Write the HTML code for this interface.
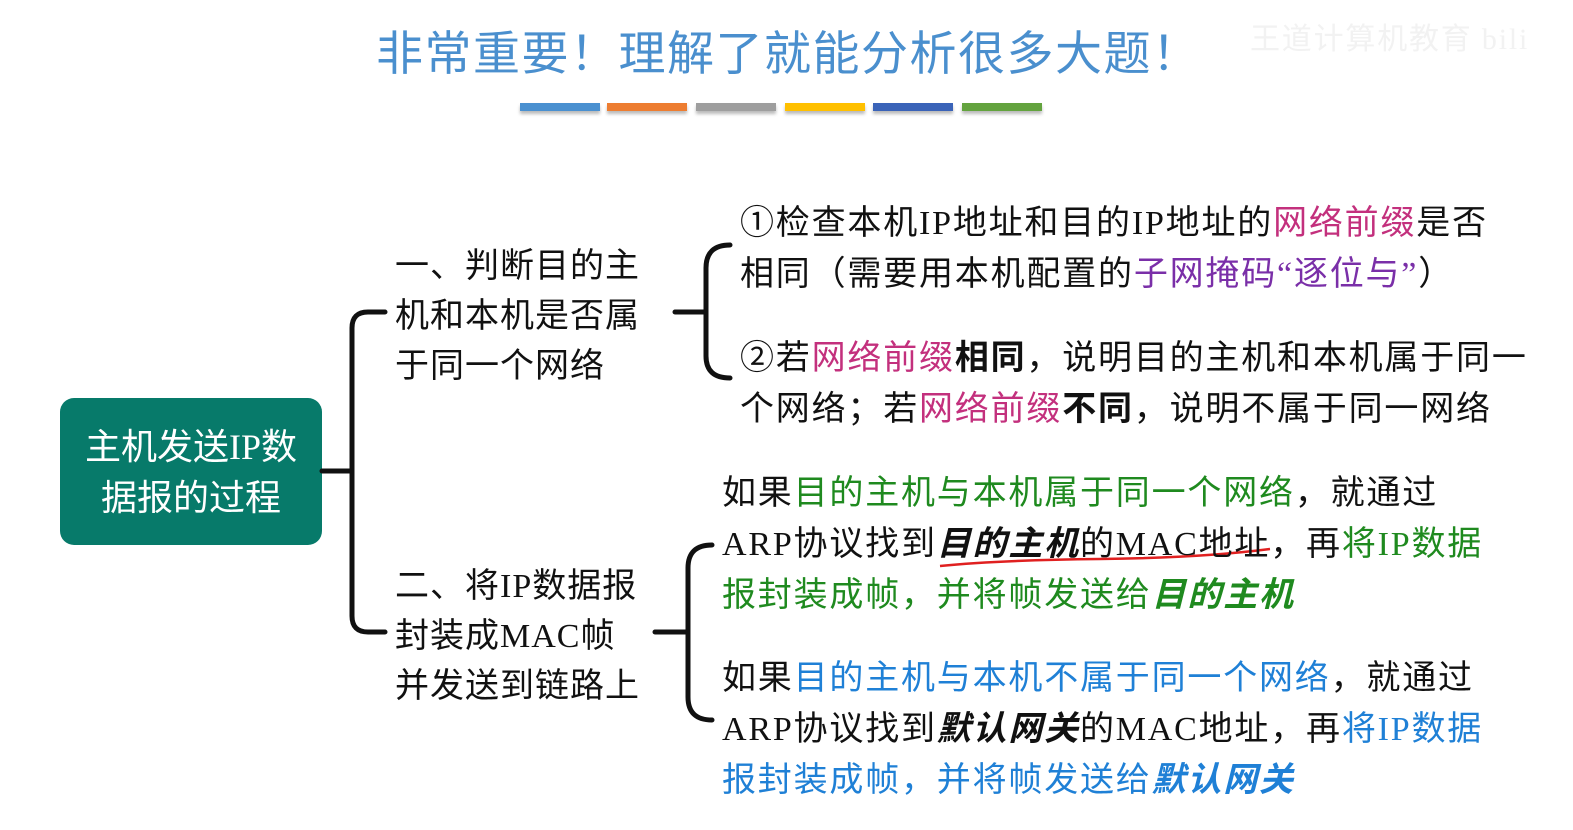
<!DOCTYPE html>
<html><head><meta charset="utf-8"><style>
body{margin:0;width:1573px;height:830px;background:#fff;position:relative;overflow:hidden;font-family:"Liberation Serif","Noto Sans CJK SC",sans-serif;}
.t{position:absolute;white-space:nowrap;font-size:34px;letter-spacing:1.8px;line-height:40px;color:#111;}
.p{color:#c3307d}.u{color:#7a2fa8}.g{color:#1f8a1f}.b{color:#1f80d6}
i{font-style:italic;font-weight:bold}
.bar{position:absolute;top:103px;width:80px;height:8px;box-shadow:0 3px 3px #bbb}
</style></head><body>
<div class="t" style="left:376px;top:28px;font-size:47px;letter-spacing:1.5px;line-height:54px;color:#4a8fce;">非常重要！理解了就能分析很多大题！</div>
<div class="t" style="left:1250px;top:20px;font-size:30px;color:#f2f2f2;">王道计算机教育 bili</div>
<div class="bar" style="left:520px;background:#4a90d0"></div>
<div class="bar" style="left:607px;background:#ed7d31"></div>
<div class="bar" style="left:696px;background:#9e9e9e"></div>
<div class="bar" style="left:785px;background:#ffc000"></div>
<div class="bar" style="left:873px;background:#3a63b8"></div>
<div class="bar" style="left:962px;background:#63a33e"></div>

<div style="position:absolute;left:60px;top:398px;width:262px;height:147px;background:#077a6a;border-radius:14px;"></div>
<div class="t" style="left:60px;width:262px;text-align:center;top:422px;color:#fff;font-size:36px;letter-spacing:0;line-height:51px;">主机发送IP数<br>据报的过程</div>

<svg width="1573" height="830" style="position:absolute;left:0;top:0">
<g fill="none" stroke="#111" stroke-width="5" stroke-linecap="round">
<path d="M322 471 H352"/>
<path d="M385 312 H368 Q352 312 352 328 V616 Q352 632 368 632 H385"/>
<path d="M675 312 H705"/>
<path d="M730 245 Q706 245 706 268 V356 Q706 378 730 378"/>
<path d="M655 632 H687"/>
<path d="M712 545 Q688 545 688 568 V697 Q688 720 712 720"/>
</g>
<path d="M940 566 Q1000 560 1100 559 T1270 549" stroke="#e02020" stroke-width="2.5" fill="none"/>
</svg>

<div class="t" style="left:395px;top:242px;line-height:50px;letter-spacing:1px;">一、判断目的主<br>机和本机是否属<br>于同一个网络</div>
<div class="t" style="left:395px;top:562px;line-height:50px;letter-spacing:1px;">二、将IP数据报<br>封装成MAC帧<br>并发送到链路上</div>

<div class="t" style="left:740px;top:198px;line-height:51px;">①检查本机IP地址和目的IP地址的<span class="p">网络前缀</span>是否<br>相同（需要用本机配置的<span class="u">子网掩码“逐位与”</span>）</div>
<div class="t" style="left:740px;top:333px;line-height:51px;">②若<span class="p">网络前缀</span><b>相同</b>，说明目的主机和本机属于同一<br>个网络；若<span class="p">网络前缀</span><b>不同</b>，说明不属于同一网络</div>

<div class="t" style="left:722px;top:468px;line-height:51px;">如果<span class="g">目的主机与本机属于同一个网络</span>，就通过<br>ARP协议找到<i>目的主机</i>的MAC地址，再<span class="g">将IP数据</span><br><span class="g">报封装成帧，并将帧发送给<i>目的主机</i></span></div>
<div class="t" style="left:722px;top:653px;line-height:51px;">如果<span class="b">目的主机与本机不属于同一个网络</span>，就通过<br>ARP协议找到<i>默认网关</i>的MAC地址，再<span class="b">将IP数据</span><br><span class="b">报封装成帧，并将帧发送给<i>默认网关</i></span></div>
</body></html>
